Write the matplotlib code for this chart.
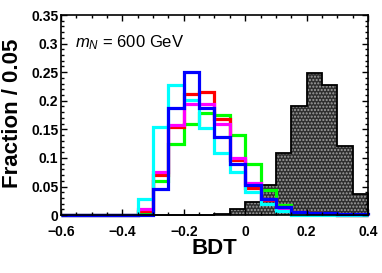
import numpy as np
import matplotlib
matplotlib.use('Agg')
import matplotlib.pyplot as plt
from matplotlib.ticker import MultipleLocator

plt.rcParams['font.family'] = ['Liberation Sans', 'DejaVu Sans']
plt.rcParams['mathtext.fontset'] = 'custom'
plt.rcParams['mathtext.rm'] = 'Liberation Sans'
plt.rcParams['mathtext.it'] = 'Liberation Sans:italic'
plt.rcParams['hatch.linewidth'] = 1.0

# BDT bins: -0.6 .. 0.4, width 0.05
bin_edges = np.round(np.arange(-0.6, 0.4001, 0.05), 3)

# fraction per bin
signal = [0, 0, 0, 0, 0, 0, 0.001, 0.001, 0.001, 0.001,
          0.002, 0.010, 0.023, 0.052, 0.108, 0.190, 0.248, 0.228, 0.121, 0.037]
green = [0, 0, 0, 0, 0, 0.005, 0.060, 0.125, 0.160, 0.178,
         0.175, 0.141, 0.089, 0.044, 0.018, 0.006, 0.003, 0.002, 0.001, 0.001]
red = [0, 0, 0, 0, 0, 0.008, 0.070, 0.155, 0.211, 0.216,
       0.168, 0.097, 0.047, 0.026, 0.015, 0.005, 0.003, 0.002, 0.001, 0.001]
magenta = [0, 0, 0, 0, 0, 0.010, 0.076, 0.157, 0.195, 0.195,
           0.159, 0.100, 0.057, 0.029, 0.013, 0.005, 0.003, 0.002, 0.001, 0.001]
cyan = [0, 0, 0, 0, 0, 0.028, 0.155, 0.228, 0.202, 0.152,
        0.108, 0.076, 0.041, 0.019, 0.008, 0.001, 0.001, 0.001, 0, 0]
blue = [0, 0, 0, 0, 0, 0, 0.045, 0.187, 0.251, 0.188,
        0.137, 0.090, 0.053, 0.029, 0.015, 0.006, 0.004, 0.003, 0.002, 0.002]

fig = plt.figure(figsize=(3.82, 2.73), dpi=100)
ax = fig.add_axes([0.160, 0.212, 0.803, 0.733])

# signal: dark filled histogram with dotted pattern, black outline
ax.stairs(signal, bin_edges, fill=True, facecolor='#2e2e2e', edgecolor='#a0a0a0',
          hatch='.....', linewidth=0)
ax.stairs(signal, bin_edges, color='black', linewidth=1.3, clip_on=False)

for vals, col in [(green, '#00ff00'), (red, '#ff0000'), (magenta, '#ff00ff'),
                  (cyan, '#00ffff'), (blue, '#0000ff')]:
    ax.stairs(vals, bin_edges, color=col, linewidth=2.3, clip_on=False)

ax.set_xlim(-0.6, 0.4)
ax.set_ylim(0, 0.35)
ax.xaxis.set_major_locator(MultipleLocator(0.2))
ax.xaxis.set_minor_locator(MultipleLocator(0.05))
ax.yaxis.set_major_locator(MultipleLocator(0.05))
ax.yaxis.set_minor_locator(MultipleLocator(0.01))
ax.set_xticks([-0.6, -0.4, -0.2, 0, 0.2, 0.4])
ax.set_xticklabels(['\u22120.6', '\u22120.4', '\u22120.2', '0', '0.2', '0.4'])
ax.set_yticks([0, 0.05, 0.1, 0.15, 0.2, 0.25, 0.3, 0.35])
ax.set_yticklabels(['0', '0.05', '0.1', '0.15', '0.2', '0.25', '0.3', '0.35'])

ax.tick_params(which='both', direction='in', top=True, right=True, width=1.0)
ax.tick_params(which='major', length=4.5)
ax.tick_params(which='minor', length=2.2)
ax.tick_params(axis='x', pad=7)
ax.tick_params(axis='y', pad=2)
for lab in ax.get_xticklabels() + ax.get_yticklabels():
    lab.set_fontsize(10)
    lab.set_fontweight('bold')
for sp in ax.spines.values():
    sp.set_linewidth(1.2)

ax.set_xlabel('BDT', fontsize=16, fontweight='bold')
ax.xaxis.set_label_coords(0.5, -0.115)
ax.set_ylabel('Fraction / 0.05', fontsize=16, fontweight='bold')
ax.yaxis.set_label_coords(-0.125, 0.51)

ax.text(0.046, 0.86, r'$m_N$ = 600 GeV', transform=ax.transAxes,
        fontsize=12, va='center', ha='left')

fig.savefig('out.png', dpi=100)
